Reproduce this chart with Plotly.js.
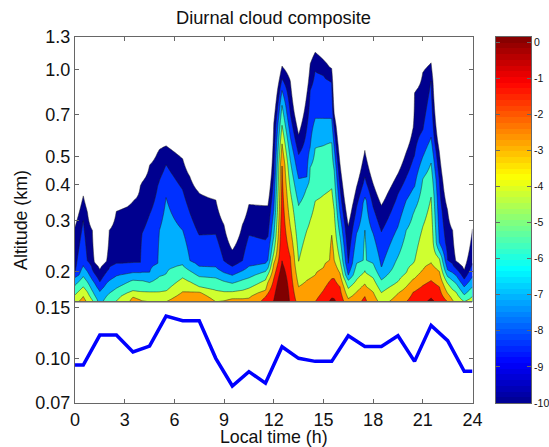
<!DOCTYPE html>
<html>
<head>
<meta charset="utf-8">
<script src="https://cdn.plot.ly/plotly-3.0.1.min.js"></script>
<style>html,body{margin:0;padding:0;background:#fff}</style>
</head>
<body>
<div id="chart" style="width:549px;height:447px"></div>
<script>
// Column positions (local time, h)
const hours = [0,.5,.75,1.05,1.17,1.5,1.9,2.07,2.5,3.5,3.95,4.05,4.5,5,5.1,5.5,6.5,6.95,7.5,8.5,9,9.5,10.1,10.5,11.5,11.65,12,12.5,13,13.5,14,14.2,14.5,15,15.37,15.5,15.65,16,16.5,17,17.4,17.5,17.6,18,18.5,19.5,20,20.42,20.5,21,21.5,22,22.5,22.8,23,23.5,24];
// Altitude (km) at which each contour level is crossed, per column
const level0Alt = [.286,.366,.322,.278,.215,.203,.216,.278,.325,.351,.398,.409,.467,.519,.531,.545,.492,.425,.375,.355,.290,.237,.290,.342,.339,.339,.650,1.029,.918,.597,.826,1.049,1.151,1.083,1.021,1.008,.704,.473,.288,.393,.492,.526,.492,.403,.339,.437,.519,.633,.837,.982,1.057,.519,.326,.278,.216,.202,.282];
const level1Alt = [.195,.301,.216,.202,.197,.184,.199,.205,.213,.214,.214,.271,.315,.398,.414,.469,.384,.318,.267,.269,.216,.208,.216,.267,.257,.264,.437,.931,.704,.509,.633,.848,.995,.956,.918,.906,.633,.393,.213,.335,.403,.425,.405,.335,.275,.372,.425,.492,.505,.617,.918,.414,.219,.211,.205,.188,.213];
const level2Alt = [.192,.209,.200,.187,.183,.171,.182,.186,.193,.198,.198,.198,.198,.213,.278,.361,.278,.216,.208,.206,.198,.194,.201,.208,.213,.219,.326,.848,.585,.420,.425,.540,.677,.677,.677,.677,.540,.318,.194,.271,.349,.363,.352,.271,.206,.286,.353,.388,.393,.499,.582,.250,.202,.198,.194,.177,.192];
const level3Alt = [.179,.192,.184,.171,.166,.151,.164,.168,.175,.187,.186,.186,.183,.190,.191,.195,.210,.201,.192,.190,.185,.182,.187,.190,.200,.205,.264,.753,.486,.340,.393,.460,.537,.548,.560,.561,.448,.264,.187,.213,.218,.278,.218,.213,.187,.225,.278,.318,.326,.420,.476,.234,.192,.186,.182,.166,.177];
const level4Alt = [.166,.177,.170,.159,.153,.139,.147,.152,.158,.171,.170,.170,.170,.170,.170,.171,.190,.184,.177,.172,.170,.170,.172,.175,.187,.195,.231,.642,.382,.216,.278,.301,.351,.368,.382,.387,.326,.219,.175,.187,.197,.200,.197,.190,.169,.184,.197,.213,.216,.286,.363,.222,.182,.173,.170,.157,.164];
const level5Alt = [.153,.164,.155,.147,.139,.125,.132,.136,.143,.164,.160,.159,.157,.151,.152,.157,.170,.170,.170,.157,.159,.161,.161,.162,.172,.184,.213,.554,.286,.177,.186,.189,.194,.205,.219,.267,.219,.197,.161,.170,.179,.181,.177,.170,.151,.168,.177,.188,.189,.202,.214,.200,.168,.159,.155,.143,.149];
const level6Alt = [.139,.147,.139,.132,.125,.113,.119,.122,.125,.139,.136,.136,.132,.132,.134,.139,.153,.155,.158,.136,.137,.139,.139,.143,.164,.168,.189,.467,.225,.147,.147,.151,.157,.172,.185,.188,.189,.177,.147,.151,.161,.164,.159,.147,.132,.143,.157,.170,.171,.179,.186,.177,.157,.143,.136,.125,.132];
const level7Alt = [.096,.096,.096,.096,.096,.096,.096,.096,.096,.096,.096,.096,.096,.096,.096,.096,.096,.096,.096,.096,.096,.096,.096,.096,.143,.151,.159,.216,.143,.110,.110,.113,.125,.141,.158,.162,.161,.147,.110,.125,.136,.139,.132,.110,.107,.110,.125,.142,.143,.153,.162,.151,.125,.110,.110,.096,.096];
const levelValues = [-10,-8.571,-7.143,-5.714,-4.286,-2.857,-1.429,0];
const bandColors = ['#ffffff','#00008f','#0030ff','#00afff','#40ffbf','#cfff30','#ff9f00','#ff1000','#800000'];

// Effective cloud-top line (km)
const lineHours = [0,.5,1.5,2.5,3.5,4.5,5.5,6.5,7.5,8.5,9.5,10.5,11.5,12.5,13.5,14.5,15.5,16.5,17.5,18.5,19.5,20.5,21.5,22.5,23.5,24];
const lineAlt = [.0948,.0948,.1204,.1204,.1052,.1103,.1401,.1350,.1350,.1000,.0802,.0899,.0820,.1097,.1000,.0976,.0976,.1198,.1100,.1100,.1198,.0976,.1301,.1151,.0902,.0902];

const yTickVals = [.07,.1,.15,.2,.3,.4,.5,.7,1,1.3];
const yTickText = ['0.07','0.10','0.15','0.2','0.3','0.4','0.5','0.7','1.0','1.3'];
const xTickVals = [0,3,6,9,12,15,18,21,24];
const barTicks = [0,-1,-2,-3,-4,-5,-6,-7,-8,-9,-10];
const contourFloor = 0.157, yTop = 1.3, yBottom = 0.07, barTop = 0.14;

// Build the contour table from the crossings
const crossings = [level0Alt,level1Alt,level2Alt,level3Alt,level4Alt,level5Alt,level6Alt,level7Alt];
const gridAlt = [];
const nRows = 90;
for (let r = 0; r < nRows; r++) {
  gridAlt.push(Math.pow(10, Math.log10(contourFloor) + (Math.log10(yTop) - Math.log10(contourFloor)) * r / (nRows - 1)));
}
function zAt(col, alt) {
  const la = Math.log10(alt);
  const l = crossings.map(a => Math.log10(a[col]));
  if (la >= l[0]) return levelValues[0] - 20 * (la - l[0]);
  if (la <= l[7]) return levelValues[7] + 20 * (l[7] - la);
  for (let k = 0; k < 7; k++) {
    if (la <= l[k] && la > l[k + 1]) {
      return levelValues[k] + (levelValues[k + 1] - levelValues[k]) * (l[k] - la) / (l[k] - l[k + 1]);
    }
  }
  return levelValues[7];
}
const zTable = gridAlt.map(a => hours.map((_, c) => zAt(c, a)));

// Colour-bar cells: the 64 entries of the jet map
const barStep = (barTop + 10) / 64;
const barCells = [];
for (let i = 0; i < 64; i++) barCells.push(-10 + barStep * (i + 0.5));

const jet = [[0,'#00008f'],[0.11,'#0000ff'],[0.365,'#00ffff'],[0.62,'#ffff00'],[0.875,'#ff0000'],[1,'#800000']];

const traces = [
  {
    type: 'contour', x: hours, y: gridAlt, z: zTable, xaxis: 'x', yaxis: 'y',
    autocontour: false,
    contours: {start: levelValues[0], end: 0.001, size: 10 / 7, coloring: 'fill', showlines: true},
    colorscale: bandColors.map((c, i) => [i / (bandColors.length - 1), c]),
    line: {color: '#222', width: 0.5, smoothing: 0},
    showscale: false, hoverinfo: 'skip'
  },
  {
    type: 'scatter', mode: 'lines', x: lineHours, y: lineAlt, xaxis: 'x', yaxis: 'y',
    line: {color: '#0000ff', width: 3.5}, hoverinfo: 'skip'
  },
  {
    type: 'heatmap', x: [0], y: barCells, z: barCells.map(v => [v]), xaxis: 'x2', yaxis: 'y2',
    zmin: -10, zmax: barTop, colorscale: jet, showscale: false, hoverinfo: 'skip'
  }
];

const axisColor = '#666666';
const font = {family: '"Liberation Sans", Arial, sans-serif', color: '#111'};
const layout = {
  width: 549, height: 447,
  margin: {l: 75, r: 18, t: 37, b: 44, pad: 0},
  paper_bgcolor: '#fff', plot_bgcolor: '#fff',
  showlegend: false,
  font: font,
  title: {text: 'Diurnal cloud composite', x: 273.5 / 549, xanchor: 'center', y: 1 - 17.5 / 447, yanchor: 'middle', font: {size: 18.3, family: font.family, color: '#111'}},
  xaxis: {
    domain: [0, 397.5 / 456], range: [0, 24], tickmode: 'array', tickvals: xTickVals, ticktext: xTickVals.map(String),
    ticks: 'inside', ticklen: 4, tickcolor: axisColor, linecolor: axisColor, linewidth: 1, mirror: 'ticks',
    showgrid: false, zeroline: false, tickfont: {size: 18}, tickangle: 0,
    title: {text: 'Local time (h)', font: {size: 17.8}, standoff: 2.5}
  },
  yaxis: {
    type: 'log', range: [Math.log10(yBottom), Math.log10(yTop)], tickmode: 'array', tickvals: yTickVals, ticktext: yTickText,
    ticks: 'inside', ticklen: 4, tickcolor: axisColor, linecolor: axisColor, linewidth: 1, mirror: 'ticks',
    showgrid: false, zeroline: false, tickfont: {size: 18},
    title: {text: 'Altitude (km)', font: {size: 17.8}, standoff: 3}
  },
  xaxis2: {
    domain: [420.5 / 456, 1], range: [-0.5, 0.5], anchor: 'y2', showticklabels: false, ticks: '',
    linecolor: axisColor, linewidth: 1, mirror: true, showgrid: false, zeroline: false
  },
  yaxis2: {
    anchor: 'x2', side: 'right', range: [-10, barTop], tickmode: 'array', tickvals: barTicks, ticktext: barTicks.map(String),
    ticks: 'inside', ticklen: 4, tickcolor: axisColor, linecolor: axisColor, linewidth: 1, mirror: 'ticks',
    showgrid: false, zeroline: false, tickfont: {size: 10.5}
  },
  shapes: [{type: 'line', xref: 'x', yref: 'y', x0: 0, x1: 24, y0: contourFloor, y1: contourFloor, line: {color: axisColor, width: 1.5}, layer: 'above'}]
};
Plotly.newPlot('chart', traces, layout, {staticPlot: true, displayModeBar: false});
</script>
</body>
</html>
